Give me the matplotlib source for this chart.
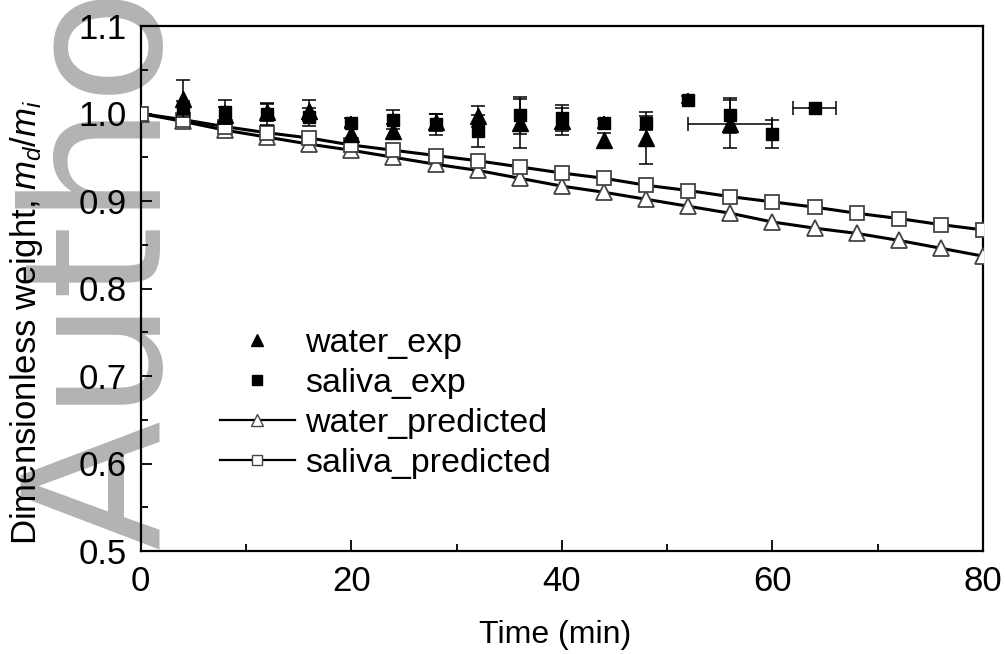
import matplotlib
matplotlib.use("Agg")
import matplotlib.pyplot as plt
from matplotlib.ticker import MultipleLocator
from matplotlib.lines import Line2D
import numpy as np

plt.rcParams['font.family'] = ['Liberation Sans', 'DejaVu Sans']
plt.rcParams['mathtext.fontset'] = 'custom'
plt.rcParams['mathtext.rm'] = 'Liberation Sans'
plt.rcParams['mathtext.it'] = 'Liberation Sans:italic'

# ---- data ----
t_water_exp = [4, 8, 12, 16, 20, 24, 28, 32, 36, 40, 44, 48, 56]
water_exp = [1.017, 0.998, 1.002, 1.003, 0.977, 0.980, 0.990, 0.997, 0.989, 0.991, 0.970, 0.972, 0.988]
water_err = [0.021, 0.010, 0.010, 0.012, 0.008, 0.008, 0.010, 0.012, 0.028, 0.015, 0.008, 0.030, 0.027]
water_xerr = [0, 0, 0, 0, 0, 0, 0, 0, 0, 0, 0, 0, 4]

t_saliva_exp = [4, 8, 12, 16, 20, 24, 28, 32, 36, 40, 44, 48, 52, 56, 60, 64]
saliva_exp = [1.006, 1.002, 0.999, 0.996, 0.989, 0.993, 0.988, 0.980, 0.998, 0.995, 0.989, 0.989, 1.016, 0.998, 0.977, 1.006]
saliva_err = [0.008, 0.014, 0.012, 0.010, 0.006, 0.011, 0.012, 0.018, 0.021, 0.015, 0.005, 0.008, 0.004, 0.020, 0.016, 0.0]
saliva_xerr = [0, 0, 0, 0, 0, 0, 0, 0, 0, 0, 0, 0, 0, 0, 0, 2]

t_pred = [0, 4, 8, 12, 16, 20, 24, 28, 32, 36, 40, 44, 48, 52, 56, 60, 64, 68, 72, 76, 80]
saliva_pred = [1.0, 0.993, 0.985, 0.978, 0.972, 0.964, 0.958, 0.952, 0.946, 0.939, 0.932,
               0.926, 0.918, 0.912, 0.905, 0.899, 0.893, 0.886, 0.880, 0.873, 0.867]
water_pred = [1.0, 0.991, 0.981, 0.973, 0.965, 0.958, 0.950, 0.942, 0.935, 0.926, 0.917,
              0.910, 0.902, 0.894, 0.886, 0.876, 0.869, 0.863, 0.855, 0.846, 0.837]

W, H = 1005, 654
fig = plt.figure(figsize=(W / 100, H / 100), dpi=100)
ax = fig.add_axes([140.7 / W, 1 - 551 / H, (983 - 140.7) / W, (551 - 26) / H])
ax.set_facecolor('none')

# watermark
fig.text(16 / W, 1 - 550 / H, "Author Manuscript", rotation=90, fontsize=137,
         family='DejaVu Sans', color='#b3b3b3', ha='left', va='bottom', zorder=-5)

ax.plot(t_pred, water_pred, '-', color='black', lw=2.2, marker='^', ms=12,
        mfc='white', mec='#444444', mew=1.3, zorder=3)
ax.plot(t_pred, saliva_pred, '-', color='black', lw=2.2, marker='s', ms=10,
        mfc='white', mec='#444444', mew=1.3, zorder=3)

ax.errorbar(t_water_exp, water_exp, yerr=water_err, xerr=water_xerr, fmt='^', ms=11,
            color='black', mfc='black', mec='black', ecolor='black', elinewidth=1.1,
            capsize=5, capthick=1.1, zorder=4)
ax.errorbar(t_saliva_exp, saliva_exp, yerr=saliva_err, xerr=saliva_xerr, fmt='s', ms=9,
            color='black', mfc='black', mec='black', ecolor='black', elinewidth=1.1,
            capsize=5, capthick=1.1, zorder=4)

ax.set_xlim(0, 80)
ax.set_ylim(0.5, 1.1)
ax.xaxis.set_major_locator(MultipleLocator(20))
ax.xaxis.set_minor_locator(MultipleLocator(10))
ax.yaxis.set_major_locator(MultipleLocator(0.1))
ax.yaxis.set_minor_locator(MultipleLocator(0.05))
ax.yaxis.set_major_formatter(plt.FuncFormatter(lambda v, p: f"{v:.1f}"))
ax.tick_params(which='both', direction='in', top=False, right=False, labelsize=25,
               width=1.3, colors='black')
ax.tick_params(which='major', length=8, pad=10)
ax.tick_params(which='minor', length=5)
for s in ax.spines.values():
    s.set_linewidth(1.6)

fig.text(27 / W, 1 - 322 / H, r'Dimensionless weight, $\mathit{m}_{\mathit{d}}/\mathit{m}_{\mathit{i}}$',
         rotation=90, fontsize=25, ha='center', va='center')
fig.text(555 / W, 1 - 635 / H, 'Time (min)', fontsize=23, ha='center', va='center')

handles = [
    Line2D([], [], ls='none', marker='^', ms=8, color='black'),
    Line2D([], [], ls='none', marker='s', ms=6.5, color='black'),
    Line2D([], [], color='black', lw=1.6, marker='^', ms=8, mfc='white', mec='#444444'),
    Line2D([], [], color='black', lw=1.6, marker='s', ms=7, mfc='white', mec='#444444'),
]
labels = ['water_exp', 'saliva_exp', 'water_predicted', 'saliva_predicted']
leg = ax.legend(handles, labels, loc='upper left', bbox_to_anchor=(220 / W, 1 - 328 / H),
                bbox_transform=fig.transFigure, frameon=False, fontsize=24.5,
                handlelength=2.2, handletextpad=0.3, labelspacing=0.26, borderpad=0,
                borderaxespad=0)

fig.savefig('out.png', dpi=100)
